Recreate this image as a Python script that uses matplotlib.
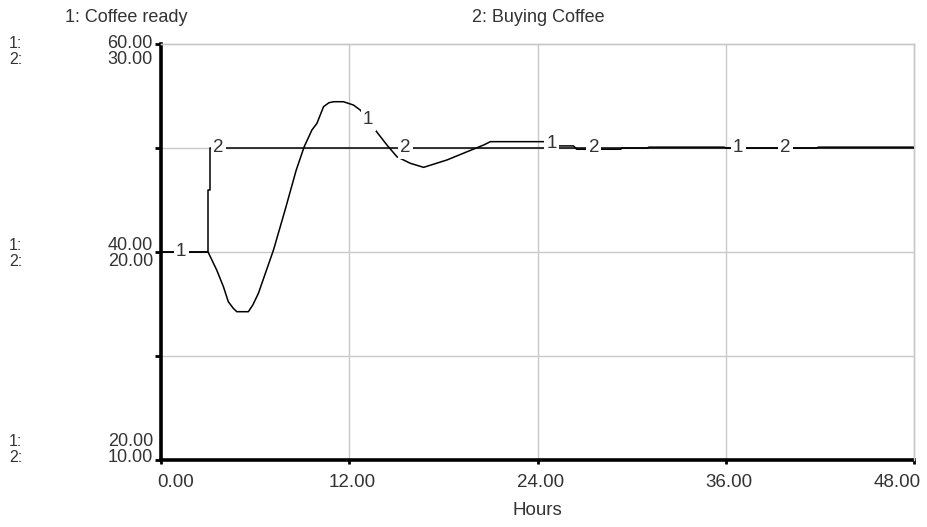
import numpy as np
import matplotlib
matplotlib.use("Agg")
import matplotlib.pyplot as plt
from matplotlib.transforms import ScaledTranslation

plt.rcParams['font.family'] = ['Liberation Sans', 'DejaVu Sans']

# ---- data ----
hours_ticks = [0, 12, 24, 36, 48]
x_tick_labels = ["0.00", "12.00", "24.00", "36.00", "48.00"]

s1_name = "1: Coffee ready"
s2_name = "2: Buying Coffee"

s1_t = [0.0, 3.0, 3.55, 3.98, 4.29, 4.6, 4.83, 5.57, 5.85, 6.21, 7.17, 7.91, 8.62, 9.13, 9.62,
        9.94, 10.36, 10.7, 11.0, 11.63, 12.27, 12.7, 13.2, 13.66, 14.4, 15.04, 15.89,
        16.74, 18.23, 19.51, 20.57, 21.0, 24.6, 25.3, 26.3, 26.5, 29.3, 29.4,
        31.0, 31.1, 35.9, 36.0, 41.8, 41.9, 48.0]
s1_v = [40.0, 40.0, 38.27, 36.66, 35.22, 34.6, 34.26, 34.26, 34.9, 36.03, 40.19, 44.04, 47.88,
        50.13, 51.73, 52.37, 53.97, 54.35, 54.45, 54.45, 54.13, 53.65, 52.7, 51.73, 50.29,
        49.16, 48.53, 48.14, 48.85, 49.64, 50.29, 50.61, 50.61, 50.2, 50.2, 49.88,
        49.88, 50.0, 50.0, 50.08, 50.08, 50.0, 50.0, 50.08, 50.08]

s2_t = [0.0, 3.0, 3.0, 3.1, 3.1, 48.0]
s2_v = [20.0, 20.0, 23.0, 23.0, 25.0, 25.0]

s1_range = (20.0, 60.0)
s2_range = (10.0, 30.0)
s1_tick_labels = ["20.00", "40.00", "60.00"]
s2_tick_labels = ["10.00", "20.00", "30.00"]

s1_label_t = [1.28, 13.2, 24.9, 36.8]
s2_label_t = [3.64, 15.6, 27.6, 39.8]

# ---- figure ----
W, H = 927, 527
fig = plt.figure(figsize=(W / 100, H / 100), dpi=100)
ax = fig.add_axes([161 / W, 1 - 460 / H, 753 / W, 416 / H])
ax2 = ax.twinx()

txt_col = "#333333"
fs = 13.5
grid_col = "#c8c8c8"

ax.set_xlim(0, 48)
ax.set_ylim(*s1_range)
ax2.set_ylim(*s2_range)

# grid
for x in hours_ticks[1:-1]:
    ax.axvline(x, color=grid_col, lw=1.0, zorder=0)
for y in [30, 40, 50]:
    ax.axhline(y, color=grid_col, lw=1.0, zorder=0)

# lines
ax.plot(s1_t, s1_v, color="black", lw=1.1, zorder=3)
ax2.plot(s2_t, s2_v, color="black", lw=1.1, zorder=3)

# series labels
bbox = dict(boxstyle="square,pad=0.12", fc="white", ec="none")
for t in s1_label_t:
    v = np.interp(t, s1_t, s1_v)
    ax2.text(t, v, "1", transform=ax.transData, ha="center", va="center",
             fontsize=fs, color=txt_col, bbox=bbox, zorder=5)
for t in s2_label_t:
    v = np.interp(t, s2_t, s2_v)
    ax2.text(t, v, "2", ha="center", va="center",
             fontsize=fs, color=txt_col, bbox=bbox, zorder=5)

# spines
for a in (ax, ax2):
    a.spines["top"].set_color(grid_col)
    a.spines["right"].set_color(grid_col)
    a.spines["top"].set_linewidth(1.0)
    a.spines["right"].set_linewidth(1.0)
    a.spines["left"].set_linewidth(2.6)
    a.spines["bottom"].set_linewidth(2.6)
    a.spines["left"].set_color("black")
    a.spines["bottom"].set_color("black")
ax2.spines["left"].set_visible(False)
ax2.spines["bottom"].set_visible(False)
ax2.set_yticks([])

# ticks
ax.set_yticks([20, 30, 40, 50, 60])
ax.set_yticklabels([])
ax.tick_params(axis="y", length=4, width=2, color="black", direction="out")
ax.set_xticks(hours_ticks)
ax.set_xticklabels(x_tick_labels, fontsize=fs, color=txt_col)
ax.tick_params(axis="x", length=3, width=2, color="black", direction="out", pad=7)
xl = ax.get_xticklabels()
xl[0].set_ha("left")
xl[0].set_transform(xl[0].get_transform() + ScaledTranslation(-4 / 100, 0, fig.dpi_scale_trans))
xl[-1].set_ha("right")
xl[-1].set_transform(xl[-1].get_transform() + ScaledTranslation(7 / 100, 0, fig.dpi_scale_trans))
for lab in xl[1:-1]:
    lab.set_transform(lab.get_transform() + ScaledTranslation(3 / 100, 0, fig.dpi_scale_trans))

# y tick label pairs (px offsets from tick, downward positive)
offsets = [(-18, -2), (-7, 9), (-1, 15)]
s1_tick_vals = [20, 40, 60]
yfs = 13
for v1, l1, l2, (o1, o2) in zip(s1_tick_vals, s1_tick_labels, s2_tick_labels, offsets):
    for lab, off, pre in ((l1, o1, "1:"), (l2, o2, "2:")):
        ax.annotate(lab, xy=(0, v1), xycoords=("axes fraction", "data"),
                    xytext=(-8, -off), textcoords="offset pixels",
                    ha="right", va="center", fontsize=yfs, color=txt_col,
                    annotation_clip=False)
        ax.annotate(pre, xy=(0, v1), xycoords=("figure fraction", "data"),
                    xytext=(9, -off), textcoords="offset pixels",
                    ha="left", va="center", fontsize=yfs - 1.5, color=txt_col,
                    annotation_clip=False)

# titles
fig.text(65 / W, 1 - 18 / H, s1_name, ha="left", va="center", fontsize=fs - 0.5, color=txt_col)
fig.text(472 / W, 1 - 18 / H, s2_name, ha="left", va="center", fontsize=fs - 0.5, color=txt_col)

ax.set_xlabel("Hours", fontsize=fs, color=txt_col, labelpad=8)

fig.savefig("out.png", dpi=100)
